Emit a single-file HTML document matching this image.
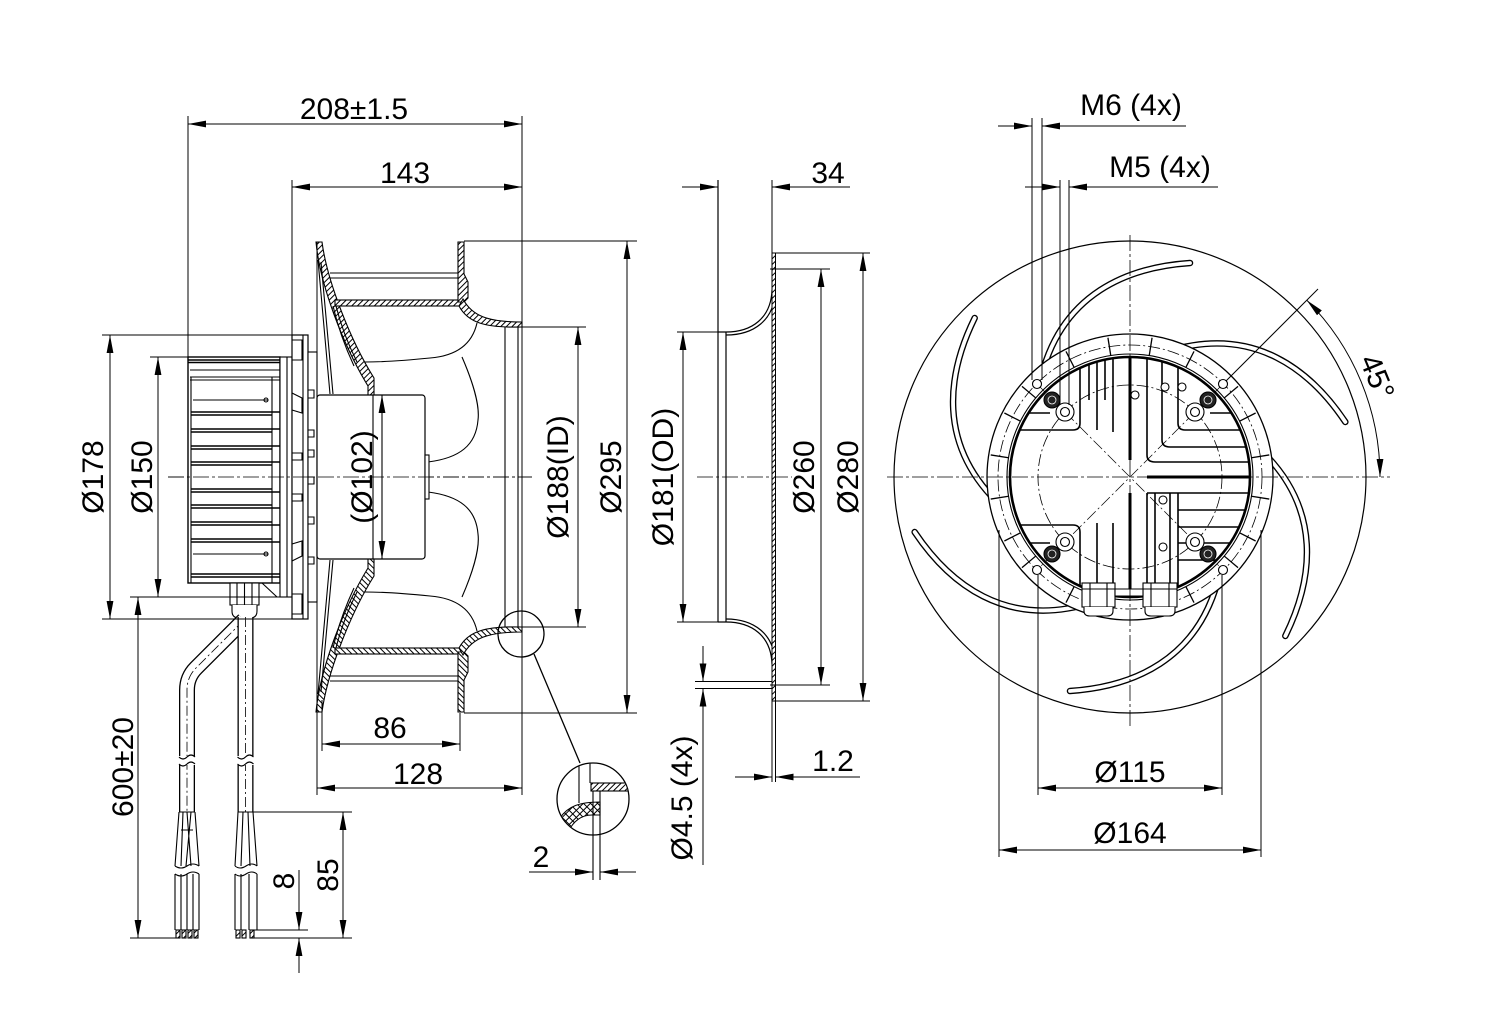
<!DOCTYPE html>
<html><head><meta charset="utf-8">
<style>
html,body{margin:0;padding:0;background:#fff;}
svg{display:block;}
text{font-family:"Liberation Sans",Arial,sans-serif;font-size:30px;fill:#000;stroke:none;}
</style></head>
<body>
<svg width="1488" height="1013" viewBox="0 0 1488 1013">
<defs>
<marker id="a" viewBox="0 0 18 8" refX="18" refY="4" markerWidth="18" markerHeight="8" orient="auto-start-reverse" markerUnits="userSpaceOnUse"><path d="M0,0.6 L18,4 L0,7.4 z" fill="#000" stroke="none"/></marker>
<pattern id="h" width="4" height="4" patternUnits="userSpaceOnUse" patternTransform="rotate(45)"><rect width="4" height="4" fill="#fff"/><line x1="1" y1="0" x2="1" y2="4" stroke="#000" stroke-width="1"/></pattern>
<pattern id="x" width="5" height="5" patternUnits="userSpaceOnUse" patternTransform="rotate(45)"><rect width="5" height="5" fill="#fff"/><path d="M0.5,0 V5 M0,0.5 H5" stroke="#000" stroke-width="1" fill="none"/></pattern>
<clipPath id="cd"><circle cx="593" cy="799" r="35.5"/></clipPath>
<clipPath id="ci"><circle cx="1130" cy="477" r="119"/></clipPath>
<g id="imp">
 <path d="M316,242 H322 C327,280 350,340 374,378 V395 H368 V386 C343,345 320,285 316,242 Z" fill="url(#h)"/>
 <path d="M318,260 L330,394 M321,262 L333,394"/>
 <path d="M333,306 Q340,336 354,366 M336,306 Q343,334 357,362"/>
 <path d="M330,273 H458 M330,278 H458"/>
 <rect x="335" y="300" width="127" height="6" fill="url(#h)"/>
 <path d="M458,242 H464 V274 L468,282 V298 L464,302 H458 Z" fill="url(#h)"/>
 <path d="M463,299 C472,316 488,322 522,322 V327 C486,328 468,323 459,306 Z" fill="url(#h)"/>
 <path d="M505,327 V477 M518,327 V477"/>
 <path d="M477,323 C472,345 455,356 430,358 C410,360 385,362 365,362"/>
 <path d="M462,357 C472,380 480,405 478,420 C476,445 460,458 428,462"/>
</g>
<path id="bl" d="M60,-214 C0,-210 -70,-185 -90,-95"/>
</defs>
<rect width="1488" height="1013" fill="#fff"/>

<g fill="none" stroke="#000" stroke-width="1.1">

<!-- ================= LEFT VIEW ================= -->
<path d="M168,477 H532" stroke-width="0.8" stroke-dasharray="16 3 3 3"/>

<use href="#imp"/>
<use href="#imp" transform="matrix(1,0,0,-1,0,954)"/>

<!-- heatsink -->
<rect x="188" y="357" width="92" height="226" fill="#fff" stroke-width="1.4"/>
<path d="M188,360 H280 M188,362.5 H280" stroke-width="1.6"/>
<path d="M190,370 H280 M190,377 H280 M190,380 H280" />
<path d="M191,377 V583 M272,377 V583"/>
<path d="M193,400 H268 M193,554 H268"/>
<circle cx="266" cy="400" r="2"/><circle cx="266" cy="554" r="2"/>
<path d="M191,412 H280 M191,415 H272 M191,429 H280 M191,432 H272 M191,446 H280 M191,449 H272 M191,462 H280 M191,465 H272 M191,489 H272 M191,492 H280 M191,505 H272 M191,508 H280 M191,522 H272 M191,525 H280 M191,539 H272 M191,542 H280 M191,574 H280 M191,577 H280" stroke-width="1.5"/>
<!-- stator plates -->
<rect x="280" y="357" width="12" height="240" fill="#fff"/>
<path d="M287,357 V597"/>
<rect x="292" y="335" width="16" height="284" fill="#fff" stroke-width="1.2"/>
<path d="M303,335 V619"/>
<path d="M292,340 H302 V360 H292 M292,393 L302,398 V413 L292,410 M292,453 H302 V460 H292 M292,494 H302 V501 H292 M292,544 L302,541 V556 L292,561 M292,594 H302 V614 H292"/>
<rect x="308" y="352" width="9" height="250" fill="#fff"/>
<path d="M308,390 h6 v8 h-6 M308,430 h6 v7 h-6 M308,450 h6 v7 h-6 M308,477 h6 v7 h-6 M308,517 h6 v7 h-6 M308,557 h6 v7 h-6"/>
<!-- rotor -->
<rect x="317" y="395" width="108" height="164" rx="3" fill="#fff" stroke-width="1.2"/>
<path d="M373,395 V559"/>
<rect x="425" y="455" width="4" height="44" fill="#fff"/>
<path d="M168,477 H532" stroke-width="0.8" stroke-dasharray="16 3 3 3"/>
<line x1="382" y1="395" x2="382" y2="559" marker-start="url(#a)" marker-end="url(#a)"/>
<!-- gland -->
<rect x="230" y="583" width="29" height="22" fill="#fff"/>
<path d="M244.5,583 V605 M237,583 V605 M252,583 V605"/>
<path d="M232,605 V611 Q232,618 239,618 H250 Q257,618 257,611 V605" fill="#fff"/>
<path d="M262,583 L277,597"/>

<!-- cables -->
<path d="M244,620 L196,668 Q187,677 187,690 V812" stroke-width="16" stroke-linejoin="round"/>
<path d="M244,620 L196,668 Q187,677 187,690 V812" stroke="#fff" stroke-width="13.4"/>
<path d="M244,620 L196,668 Q187,677 187,690 V812" stroke-width="0.8" stroke-dasharray="10 3 2 3"/>
<path d="M245.5,617 V812" stroke-width="16"/>
<path d="M245.5,617 V812" stroke="#fff" stroke-width="13.4"/>
<path d="M245.5,617 V812" stroke-width="0.8" stroke-dasharray="10 3 2 3"/>
<path d="M179,812 H195 M237.5,812 H253.5"/>
<rect x="177" y="756" width="21" height="9" fill="#fff" stroke="none"/>
<rect x="236" y="756" width="21" height="9" fill="#fff" stroke="none"/>
<path d="M179,757 Q183,761 187,757 T195,757 M179,764 Q183,768 187,764 T195,764"/>
<path d="M237.5,757 Q241.5,761 245.5,757 T253.5,757 M237.5,764 Q241.5,768 245.5,764 T253.5,764"/>
<path d="M179,812 L175,866 M195,812 L199,866 M183,812 L181,866 M187,812 L191,866 M191,812 L186,866 M181,830 L193,830"/>
<path d="M175,874 V930 M199,874 V930 M181,874 V930 M187,874 V930 M193,874 V930"/>
<path d="M175,866 Q181,870 187,866 T199,866 M175,874 Q181,878 187,874 T199,874"/>
<path d="M238,812 L235,866 M253,812 L257,866 M243,812 L241,866 M248,812 L250,866"/>
<path d="M235,874 V930 M257,874 V930 M241,874 V930 M249,874 V930"/>
<path d="M235,866 Q240,870 246,866 T257,866 M235,874 Q240,878 246,874 T257,874"/>
<rect x="176" y="930" width="4" height="8" fill="url(#h)"/>
<rect x="182" y="930" width="4" height="8" fill="url(#h)"/>
<rect x="188" y="930" width="4" height="8" fill="url(#h)"/>
<rect x="194" y="930" width="4" height="8" fill="url(#h)"/>
<rect x="236" y="930" width="4" height="8" fill="url(#h)"/>
<rect x="242" y="930" width="4" height="8" fill="url(#h)"/>
<rect x="250" y="930" width="4" height="8" fill="url(#h)"/>

<!-- left dims -->
<g stroke-width="1">
<path d="M188,116 V357 M292,180 V357 M522,116 V795 M317,242 V795"/>
<line x1="188" y1="124" x2="522" y2="124" marker-start="url(#a)" marker-end="url(#a)"/>
<line x1="292" y1="187" x2="522" y2="187" marker-start="url(#a)" marker-end="url(#a)"/>
<path d="M102,335 H292 M102,619 H308 M150,357 H188 M130,597 H287"/>
<line x1="110" y1="335" x2="110" y2="619" marker-start="url(#a)" marker-end="url(#a)"/>
<line x1="158" y1="357" x2="158" y2="597" marker-start="url(#a)" marker-end="url(#a)"/>
<line x1="138" y1="597" x2="138" y2="938" marker-start="url(#a)" marker-end="url(#a)"/>
<path d="M130,938 H178 M253,938 H352 M253,812 H352 M253,930 H308"/>
<line x1="343" y1="812" x2="343" y2="938" marker-start="url(#a)" marker-end="url(#a)"/>
<line x1="299" y1="870" x2="299" y2="930" marker-end="url(#a)"/>
<line x1="299" y1="973" x2="299" y2="938" marker-end="url(#a)"/>
<path d="M464,241 H637 M464,713 H637 M520,327 H586 M520,627 H586"/>
<line x1="578" y1="327" x2="578" y2="627" marker-start="url(#a)" marker-end="url(#a)"/>
<line x1="627" y1="241" x2="627" y2="713" marker-start="url(#a)" marker-end="url(#a)"/>
<path d="M322,700 V751 M460,713 V751"/>
<line x1="322" y1="744" x2="460" y2="744" marker-start="url(#a)" marker-end="url(#a)"/>
<line x1="317" y1="788" x2="522" y2="788" marker-start="url(#a)" marker-end="url(#a)"/>
</g>

<!-- detail -->
<circle cx="521" cy="634" r="23" stroke-width="1.3"/>
<path d="M534,654 L580,763" stroke-width="1.3"/>
<circle cx="593" cy="799" r="36" fill="#fff" stroke-width="1.3"/>
<g clip-path="url(#cd)">
 <path d="M579,760 V803 M590,760 V783"/>
 <rect x="591" y="783" width="40" height="8" fill="url(#h)"/>
 <path d="M560,818 C568,806 580,802 600,802 V815 H592 C582,815 574,820 568,832 Z" fill="url(#x)"/>
</g>
<path d="M593,791 V880 M600,791 V880"/>
<line x1="529" y1="872" x2="593" y2="872" marker-end="url(#a)"/>
<line x1="636" y1="872" x2="600" y2="872" marker-end="url(#a)"/>

<!-- ================= MIDDLE VIEW ================= -->
<path d="M697,477 H792" stroke-width="0.8" stroke-dasharray="16 3 3 3"/>
<path d="M718,180 V622 M726,332 V622 M718,332 H726 M718,622 H726" stroke-width="1.2"/>
<path d="M726,332 C752,332 771,318 772,290 M726,335 C754,335 774,320 775,292" stroke-width="1.2"/>
<path d="M726,622 C752,622 771,636 772,664 M726,619 C754,619 774,634 775,662" stroke-width="1.2"/>
<rect x="772" y="253" width="3.5" height="448" fill="url(#h)" stroke-width="1"/>
<g stroke-width="1">
<path d="M772,180 V253 M772,701 V782 M775.5,701 V782"/>
<line x1="682" y1="187" x2="718" y2="187" marker-end="url(#a)"/>
<line x1="850" y1="187" x2="772" y2="187" marker-end="url(#a)"/>
<path d="M775,253 H870 M775,701 H870 M770,269 H830 M770,685 H830 M677,332 H718 M677,622 H718 M695,681.5 H772 M695,688.5 H772"/>
<line x1="863" y1="253" x2="863" y2="701" marker-start="url(#a)" marker-end="url(#a)"/>
<line x1="821" y1="269" x2="821" y2="685" marker-start="url(#a)" marker-end="url(#a)"/>
<line x1="683" y1="332" x2="683" y2="622" marker-start="url(#a)" marker-end="url(#a)"/>
<line x1="703" y1="646" x2="703" y2="681.5" marker-end="url(#a)"/>
<line x1="703" y1="865" x2="703" y2="688.5" marker-end="url(#a)"/>
<line x1="735" y1="777" x2="772" y2="777" marker-end="url(#a)"/>
<line x1="860" y1="777" x2="775.5" y2="777" marker-end="url(#a)"/>
</g>

<!-- ================= RIGHT VIEW ================= -->
<circle cx="1130" cy="477" r="236" stroke-width="1.2"/>
<g transform="translate(1130,477)" stroke-linecap="round">
 <g stroke-width="6.5">
  <use href="#bl"/><use href="#bl" transform="rotate(60)"/><use href="#bl" transform="rotate(120)"/>
  <use href="#bl" transform="rotate(180)"/><use href="#bl" transform="rotate(240)"/><use href="#bl" transform="rotate(300)"/>
 </g>
 <g stroke="#fff" stroke-width="3.8">
  <use href="#bl"/><use href="#bl" transform="rotate(60)"/><use href="#bl" transform="rotate(120)"/>
  <use href="#bl" transform="rotate(180)"/><use href="#bl" transform="rotate(240)"/><use href="#bl" transform="rotate(300)"/>
 </g>
</g>
<circle cx="1130" cy="477" r="143" fill="#fff" stroke-width="1.3"/>
<circle cx="1130" cy="477" r="132" stroke-width="0.8" stroke-dasharray="12 3 2 3"/>
<g transform="translate(1130,477)" stroke-width="1.3">
 <line x1="123" y1="0" x2="141" y2="0" transform="rotate(-9)"/>
 <line x1="123" y1="0" x2="141" y2="0" transform="rotate(-27)"/>
 <line x1="123" y1="0" x2="141" y2="0" transform="rotate(-63)"/>
 <line x1="123" y1="0" x2="141" y2="0" transform="rotate(-81)"/>
 <line x1="123" y1="0" x2="141" y2="0" transform="rotate(-99)"/>
 <line x1="123" y1="0" x2="141" y2="0" transform="rotate(-117)"/>
 <line x1="123" y1="0" x2="141" y2="0" transform="rotate(-153)"/>
 <line x1="123" y1="0" x2="141" y2="0" transform="rotate(-171)"/>
 <line x1="123" y1="0" x2="141" y2="0" transform="rotate(-189)"/>
 <line x1="123" y1="0" x2="141" y2="0" transform="rotate(-207)"/>
 <line x1="123" y1="0" x2="141" y2="0" transform="rotate(-243)"/>
 <line x1="123" y1="0" x2="141" y2="0" transform="rotate(-297)"/>
 <line x1="123" y1="0" x2="141" y2="0" transform="rotate(-333)"/>
 <line x1="123" y1="0" x2="141" y2="0" transform="rotate(-351)"/>
 <line x1="123" y1="0" x2="141" y2="0" transform="rotate(-40)"/>
 <line x1="123" y1="0" x2="141" y2="0" transform="rotate(-140)"/>
 <line x1="123" y1="0" x2="141" y2="0" transform="rotate(-220)"/>
 <line x1="123" y1="0" x2="141" y2="0" transform="rotate(-320)"/>
</g>
<circle cx="1130" cy="477" r="123"/>
<circle cx="1130" cy="477" r="120" stroke-width="2.6"/>
<circle cx="1130" cy="477" r="92" stroke-width="0.8" stroke-dasharray="12 3 2 3"/>
<path d="M1037,384 L1223,570 M1223,384 L1037,570" stroke-width="0.7" stroke-dasharray="12 3 2 3"/>
<g clip-path="url(#ci)" stroke-width="1.6">
 <path d="M1097,355 V430 M1113,355 V432 M1089,355 V400 M1105,355 V400"/>
 <path d="M1130,355 V460" stroke-width="3"/>
 <path d="M1005,430 H1073 Q1080,430 1080,423 V355"/>
 <path d="M1005,413 H1050"/>
 <path d="M1178,355 V423 Q1178,430 1185,430 H1255"/>
 <path d="M1162,355 V440 Q1162,447 1170,447 H1255"/>
 <path d="M1147,355 V455 Q1147,462 1155,462 H1255"/>
 <path d="M1210,413 H1255"/>
 <path d="M1147,477 H1255" stroke-width="3"/>
 <path d="M1147,493 H1255 M1178,510 H1255 M1178,527 H1255 M1178,543 H1255 M1178,560 H1240"/>
 <path d="M1147,493 V600 M1155,493 V600 M1170,493 V600 M1178,493 V600"/>
 <path d="M1130,493 V600" stroke-width="3"/>
 <path d="M1097,523 V600 M1113,523 V600"/>
 <path d="M1005,525 H1073 Q1080,525 1080,532 V600"/>
 <path d="M1005,543 H1050"/>
</g>
<g fill="#fff">
 <circle cx="1135" cy="395" r="4"/><circle cx="1165" cy="387" r="4"/><circle cx="1182" cy="387" r="4"/>
 <circle cx="1163" cy="500" r="4"/><circle cx="1163" cy="547" r="4"/>
 <circle cx="1037" cy="384" r="4.5"/><circle cx="1223" cy="384" r="4.5"/>
 <circle cx="1037" cy="570" r="4.5"/><circle cx="1223" cy="570" r="4.5"/>
</g>
<g fill="#222">
 <circle cx="1052" cy="400" r="8"/><circle cx="1208" cy="400" r="8"/>
 <circle cx="1052" cy="554" r="8"/><circle cx="1208" cy="554" r="8"/>
</g>
<g stroke="#fff" stroke-width="0.8">
 <circle cx="1052" cy="400" r="4"/><circle cx="1208" cy="400" r="4"/>
 <circle cx="1052" cy="554" r="4"/><circle cx="1208" cy="554" r="4"/>
</g>
<g fill="#fff">
 <circle cx="1065" cy="412" r="9"/><circle cx="1195" cy="412" r="9"/>
 <circle cx="1065" cy="542" r="9"/><circle cx="1195" cy="542" r="9"/>
 <circle cx="1065" cy="412" r="4.5"/><circle cx="1195" cy="412" r="4.5"/>
 <circle cx="1065" cy="542" r="4.5"/><circle cx="1195" cy="542" r="4.5"/>
</g>
<g fill="#fff">
 <rect x="1082" y="583" width="33" height="24"/>
 <rect x="1143" y="583" width="34" height="24"/>
 <path d="M1115,589 H1143 V596 H1115 Z"/>
 <path d="M1084,607 V611 Q1084,616 1090,616 H1107 Q1113,616 1113,611 V607"/>
 <path d="M1145,607 V611 Q1145,616 1151,616 H1169 Q1175,616 1175,611 V607"/>
</g>
<path d="M1082,589 H1115 M1143,589 H1177 M1090,583 V607 M1107,583 V607 M1151,583 V607 M1169,583 V607"/>
<path d="M887,477 H1390 M1130,235 V728" stroke-width="0.8" stroke-dasharray="16 3 3 3"/>
<g stroke-width="1">
<path d="M1032,118 V380 M1042,118 V380 M1060,180 V405 M1069,180 V405"/>
<line x1="998" y1="126" x2="1032" y2="126" marker-end="url(#a)"/>
<line x1="1186" y1="126" x2="1042" y2="126" marker-end="url(#a)"/>
<line x1="1025" y1="187" x2="1060" y2="187" marker-end="url(#a)"/>
<line x1="1218" y1="187" x2="1069" y2="187" marker-end="url(#a)"/>
<path d="M1038,575 V795 M1222,575 V795 M999,530 V857 M1261,530 V857"/>
<line x1="1038" y1="788" x2="1222" y2="788" marker-start="url(#a)" marker-end="url(#a)"/>
<line x1="999" y1="850" x2="1261" y2="850" marker-start="url(#a)" marker-end="url(#a)"/>
<path d="M1226,381 L1318,289"/>
<path d="M1306.8,300.2 A250,250 0 0 1 1380,477" marker-start="url(#a)" marker-end="url(#a)"/>
</g>
</g>

<!-- ================= TEXT ================= -->
<g text-anchor="middle">
<text x="354" y="119">208±1.5</text>
<text x="405" y="183">143</text>
<text x="828" y="183">34</text>
<text x="1131" y="115">M6 (4x)</text>
<text x="1160" y="177">M5 (4x)</text>
<text x="390" y="738">86</text>
<text x="418" y="784">128</text>
<text x="541" y="867">2</text>
<text x="833" y="771">1.2</text>
<text x="1130" y="782">Ø115</text>
<text x="1130" y="843">Ø164</text>
<text transform="translate(103,477) rotate(-90)">Ø178</text>
<text transform="translate(152,477) rotate(-90)">Ø150</text>
<text transform="translate(133,767) rotate(-90)">600±20</text>
<text transform="translate(294,881) rotate(-90)">8</text>
<text transform="translate(338,875) rotate(-90)">85</text>
<text transform="translate(372,477) rotate(-90)">(Ø102)</text>
<text transform="translate(568,477) rotate(-90)">Ø188(ID)</text>
<text transform="translate(621,477) rotate(-90)">Ø295</text>
<text transform="translate(673,477) rotate(-90)">Ø181(OD)</text>
<text transform="translate(692,798) rotate(-90)">Ø4.5 (4x)</text>
<text transform="translate(814,477) rotate(-90)">Ø260</text>
<text transform="translate(858,477) rotate(-90)">Ø280</text>
<text transform="translate(1377,377) rotate(67.5)" y="10">45°</text>
</g>
</svg>
</body></html>
